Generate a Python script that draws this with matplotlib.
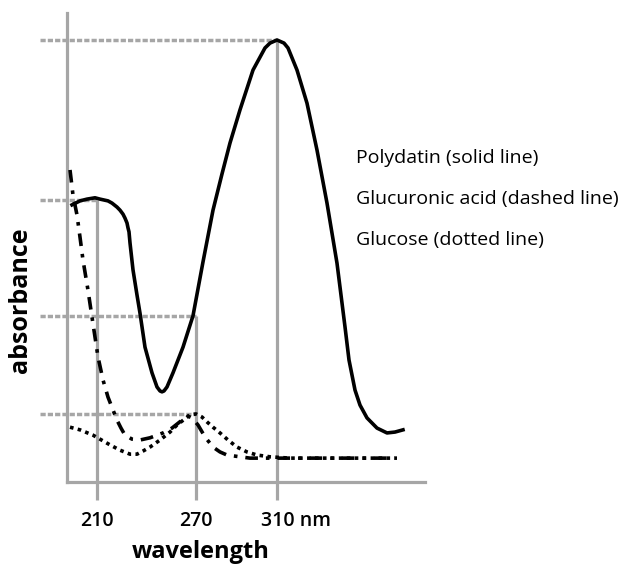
import matplotlib
matplotlib.use("Agg")
import matplotlib.pyplot as plt
import matplotlib.transforms as mtransforms

# schematic UV spectra, x in arbitrary position units, absorbance normalised to the 310 nm peak
polydatin_x = [5, 13, 20, 28, 33, 41, 45, 50, 53, 56, 58, 60, 61, 62, 63, 66, 70, 73, 78, 85, 90,
               93, 95, 97, 100, 106, 116, 126, 136, 146, 155, 163, 173, 186, 198, 203, 210, 217,
               221, 230, 240, 250, 260, 270, 278, 282, 288, 293, 300, 310, 320, 328, 336]
polydatin_y = [0.627, 0.636, 0.640, 0.643, 0.640, 0.636, 0.631, 0.622, 0.615, 0.606, 0.597, 0.586,
               0.575, 0.566, 0.541, 0.480, 0.423, 0.382, 0.305, 0.247, 0.215, 0.206, 0.204, 0.206,
               0.215, 0.247, 0.305, 0.376, 0.498, 0.615, 0.697, 0.767, 0.842, 0.932, 0.982, 0.993,
               1.000, 0.993, 0.982, 0.932, 0.857, 0.751, 0.631, 0.495, 0.351, 0.276, 0.208, 0.174,
               0.145, 0.122, 0.111, 0.113, 0.118]

glucuronic_x = [3, 6, 10, 13, 16, 21, 25, 31, 36, 41, 46, 50, 54, 58, 65, 73, 83, 96, 105, 115,
                121, 125, 131, 138, 146, 153, 160, 173, 183, 253, 328]
glucuronic_y = [0.706, 0.649, 0.604, 0.554, 0.502, 0.434, 0.373, 0.283, 0.231, 0.192, 0.163, 0.140,
                0.122, 0.106, 0.097, 0.095, 0.100, 0.111, 0.122, 0.140, 0.149, 0.145, 0.129, 0.102,
                0.079, 0.068, 0.061, 0.057, 0.054, 0.054, 0.054]

glucose_x = [3, 13, 26, 43, 53, 63, 70, 76, 83, 93, 103, 110, 118, 123, 129, 135, 140, 146, 153,
             161, 170, 180, 190, 203, 223, 330]
glucose_y = [0.124, 0.118, 0.106, 0.084, 0.072, 0.063, 0.063, 0.070, 0.079, 0.095, 0.113, 0.129,
             0.143, 0.152, 0.154, 0.147, 0.136, 0.124, 0.111, 0.095, 0.079, 0.068, 0.061, 0.057,
             0.054, 0.054]

# wavelength marks: position on the axis, label, absorbance reached by the guide line
tick_pos = [30, 129, 210]
tick_labels = ["210", "270", "310 nm"]
guide_top = [0.638, 0.376, 1.000]

# dotted reference levels and where each one stops
level_y = [1.000, 0.638, 0.376, 0.154]
level_end = [210, 30, 129, 129]

legend_lines = ["Polydatin (solid line)", "Glucuronic acid (dashed line)", "Glucose (dotted line)"]

gray = "#a6a6a6"
plt.rcParams["font.family"] = ["Open Sans", "DejaVu Sans"]

fig = plt.figure(figsize=(6.18, 5.66), dpi=100)
ax = fig.add_axes([67 / 618, 84 / 566, 358 / 618, 469 / 566])
ax.set_xlim(0, 358)
ax.set_ylim(0, 469 / 442)

for s in ["top", "right"]:
    ax.spines[s].set_visible(False)
for s in ["left", "bottom"]:
    ax.spines[s].set_color(gray)
    ax.spines[s].set_linewidth(2.3)

# dotted reference levels (run out past the y axis)
for y, xe in zip(level_y, level_end):
    ax.plot([-27, xe], [y, y], color=gray, lw=2.5, linestyle=(0, (1.5, 0.6)),
            solid_capstyle="butt", dash_capstyle="butt", clip_on=False, zorder=1)

# solid guide lines up from the ticks
for xp, top in zip(tick_pos, guide_top):
    ax.plot([xp, xp], [0, top], color=gray, lw=2.3, solid_capstyle="butt", zorder=1)

ax.plot(polydatin_x, polydatin_y, color="black", lw=2.6, solid_joinstyle="round", zorder=3)
ax.plot(glucuronic_x, glucuronic_y, color="black", lw=2.6, linestyle=(0, (3.5, 2.2, 1, 2.2)),
        dash_capstyle="butt", zorder=3)
ax.plot(glucose_x, glucose_y, color="black", lw=2.6, linestyle=(0, (1, 1.2)),
        dash_capstyle="butt", zorder=3)

ax.set_yticks([])
ax.set_xticks(tick_pos)
ax.set_xticklabels(tick_labels, fontsize=14, fontweight="semibold")
ax.tick_params(axis="x", length=13, width=2.3, color=gray, pad=8)
last = ax.get_xticklabels()[-1]
last.set_horizontalalignment("left")
last.set_transform(last.get_transform() + mtransforms.ScaledTranslation(-16 / 100, 0, fig.dpi_scale_trans))

ax.set_xlabel("wavelength", fontsize=17, fontweight="bold")
ax.xaxis.set_label_coords(0.374, -0.149)
ax.xaxis.label.set_verticalalignment("center")
ax.set_ylabel("absorbance", fontsize=18, fontweight="bold")
ax.yaxis.set_label_coords(-0.131, 0.388)
ax.yaxis.label.set_verticalalignment("center")

for i, t in enumerate(legend_lines):
    fig.text(356 / 618, 1 - (158 + 41 * i) / 566, t, fontsize=14, va="center", ha="left")

fig.savefig("out.png", dpi=100)
